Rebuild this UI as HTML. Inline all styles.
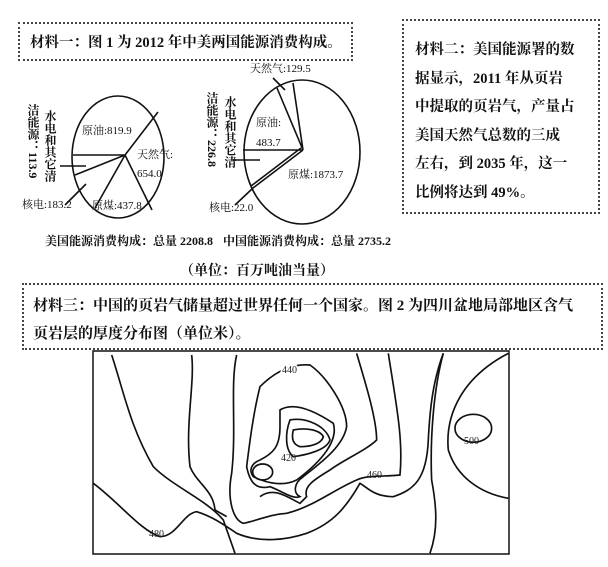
<!DOCTYPE html>
<html><head><meta charset="utf-8"><style>
body{margin:0;background:#fff;width:608px;height:567px;overflow:hidden;position:relative;font-family:"Liberation Serif","Noto Serif CJK SC",serif;color:#111}
.b{position:absolute;border:2px dotted #444;box-sizing:border-box}
.t{position:absolute;white-space:nowrap}
</style></head><body>
<div class="b" style="left:18px;top:22px;width:335px;height:39px"></div>
<div class="t" style="left:30px;top:31px;font-size:14.5px;font-weight:bold">材料一：图 1 为 2012 年中美两国能源消费构成。</div>
<div class="b" style="left:402px;top:19px;width:198px;height:195px"></div>
<div class="t" style="left:415px;top:36px;font-size:14.5px;line-height:28.6px;font-weight:bold">材料二：美国能源署的数<br>据显示，2011 年从页岩<br>中提取的页岩气，产量占<br>美国天然气总数的三成<br>左右，到 2035 年，这一<br>比例将达到 49%。</div>
<div class="b" style="left:22px;top:283px;width:581px;height:67px"></div>
<div class="t" style="left:33px;top:292px;font-size:15px;line-height:28px;font-weight:bold">材料三：中国的页岩气储量超过世界任何一个国家。图 2 为四川盆地局部地区含气<br>页岩层的厚度分布图（单位米）。</div>
<div class="t" style="left:180px;top:260px;font-size:14px;font-weight:bold">（单位：百万吨油当量）</div>
<div class="t" style="left:45px;top:232px;font-size:12px;font-weight:bold">美国能源消费构成：总量 2208.8</div>
<div class="t" style="left:223px;top:232px;font-size:12px;font-weight:bold">中国能源消费构成：总量 2735.2</div>
<svg width="608" height="567" style="position:absolute;left:0;top:0" font-family="Liberation Serif, Noto Serif CJK SC, serif" font-size="11" fill="#111">
<g fill="none" stroke="#111" stroke-width="1.6">
<ellipse cx="118" cy="157" rx="46" ry="61"/>
<path d="M125 155 L158 112 M125 155 L73 155 M125 155 L75 175 M125 155 L95 208 M125 155 L152 210 M86 166 L60 166 M86 184 L65 205"/>
<ellipse cx="302" cy="152" rx="58" ry="72"/>
<path d="M303 150 L293 83 M303 150 L277 88 M303 150 L243 150 M303 150 L253 188 M301 148 L251 186 M233 160 L260 160 M253 188 L235 205 M273 78 L285 90"/>
</g>
<text x="82" y="134">原油:819.9</text>
<text x="137" y="158">天然气:</text><text x="137" y="177">654.0</text>
<text x="92" y="209">原煤:437.8</text>
<text x="22" y="208">核电:183.2</text>
<text x="256" y="126">原油:</text><text x="256" y="146">483.7</text>
<text x="288" y="178">原煤:1873.7</text>
<text x="209" y="211">核电:22.0</text>
<text x="250" y="72">天然气:129.5</text>
<g font-size="12" font-weight="bold">
<text x="50" y="110" writing-mode="tb">水电和其它清</text>
<text x="33" y="104" writing-mode="tb">洁能源：113.9</text>
<text x="230" y="96" writing-mode="tb">水电和其它清</text>
<text x="212" y="92" writing-mode="tb">洁能源：226.8</text>
</g>
<rect x="93" y="351" width="416" height="203" fill="none" stroke="#111" stroke-width="1.5"/>
<g transform="translate(80,340) scale(0.3333)" fill="none" stroke="#111" stroke-width="5">
<path d="M95 45 C130 150 150 260 220 380 C280 440 380 480 430 540 L465 640"/>
<path d="M335 45 C345 130 315 250 330 380 C350 430 400 450 405 510 L440 530"/>
<path d="M40 430 C120 490 180 570 240 590 C290 590 310 520 350 515 C400 530 440 560 470 580 C540 610 620 600 680 580 C760 550 800 500 840 430 C860 440 880 470 940 470 C1000 450 1040 420 1045 300 C1050 200 1060 120 1090 40"/>
<path d="M470 45 C450 130 470 270 455 400 C440 480 460 540 490 550 C540 540 560 525 620 520 C700 500 760 450 830 420 C860 405 920 410 960 405 C970 300 950 200 925 40"/>
<path d="M830 40 C860 140 890 240 890 300 C860 330 790 360 750 390 C700 420 670 440 680 470 L660 490 C620 470 580 440 540 470"/>
<path d="M540 140 C580 100 630 70 690 75 C740 110 800 200 800 260 C790 320 720 370 670 410 C640 430 640 460 660 470 C640 480 600 450 570 440 C530 450 510 430 500 380 C510 300 520 220 540 140Z"/>
<path d="M600 210 C640 185 700 210 760 250 C775 300 730 360 650 420 C610 440 560 430 520 410 C505 390 515 370 540 360 C580 340 600 320 600 260Z"/>
<path d="M630 240 C680 230 740 260 750 300 C740 330 680 345 640 350 C615 330 615 280 630 240Z"/>
<path d="M640 270 C680 262 720 270 730 290 C725 312 690 320 660 320 C635 312 635 290 640 270Z"/>
<ellipse cx="548" cy="396" rx="30" ry="24"/>
<path d="M1285 40 C1150 110 1095 220 1105 330 C1130 410 1200 460 1285 475"/>
<ellipse cx="1180" cy="265" rx="55" ry="42"/>
<path d="M1090 40 C1060 150 1050 300 1055 420 C1070 500 1075 570 1050 640"/>
</g>
<g font-size="10" fill="#222">
<text x="282" y="373" fill="#fff" stroke="#fff" stroke-width="3">440</text><text x="282" y="373">440</text>
<text x="281" y="461">420</text>
<text x="367" y="478">460</text>
<text x="149" y="537">480</text>
<text x="464" y="444">500</text>
</g>
</svg>
</body></html>
